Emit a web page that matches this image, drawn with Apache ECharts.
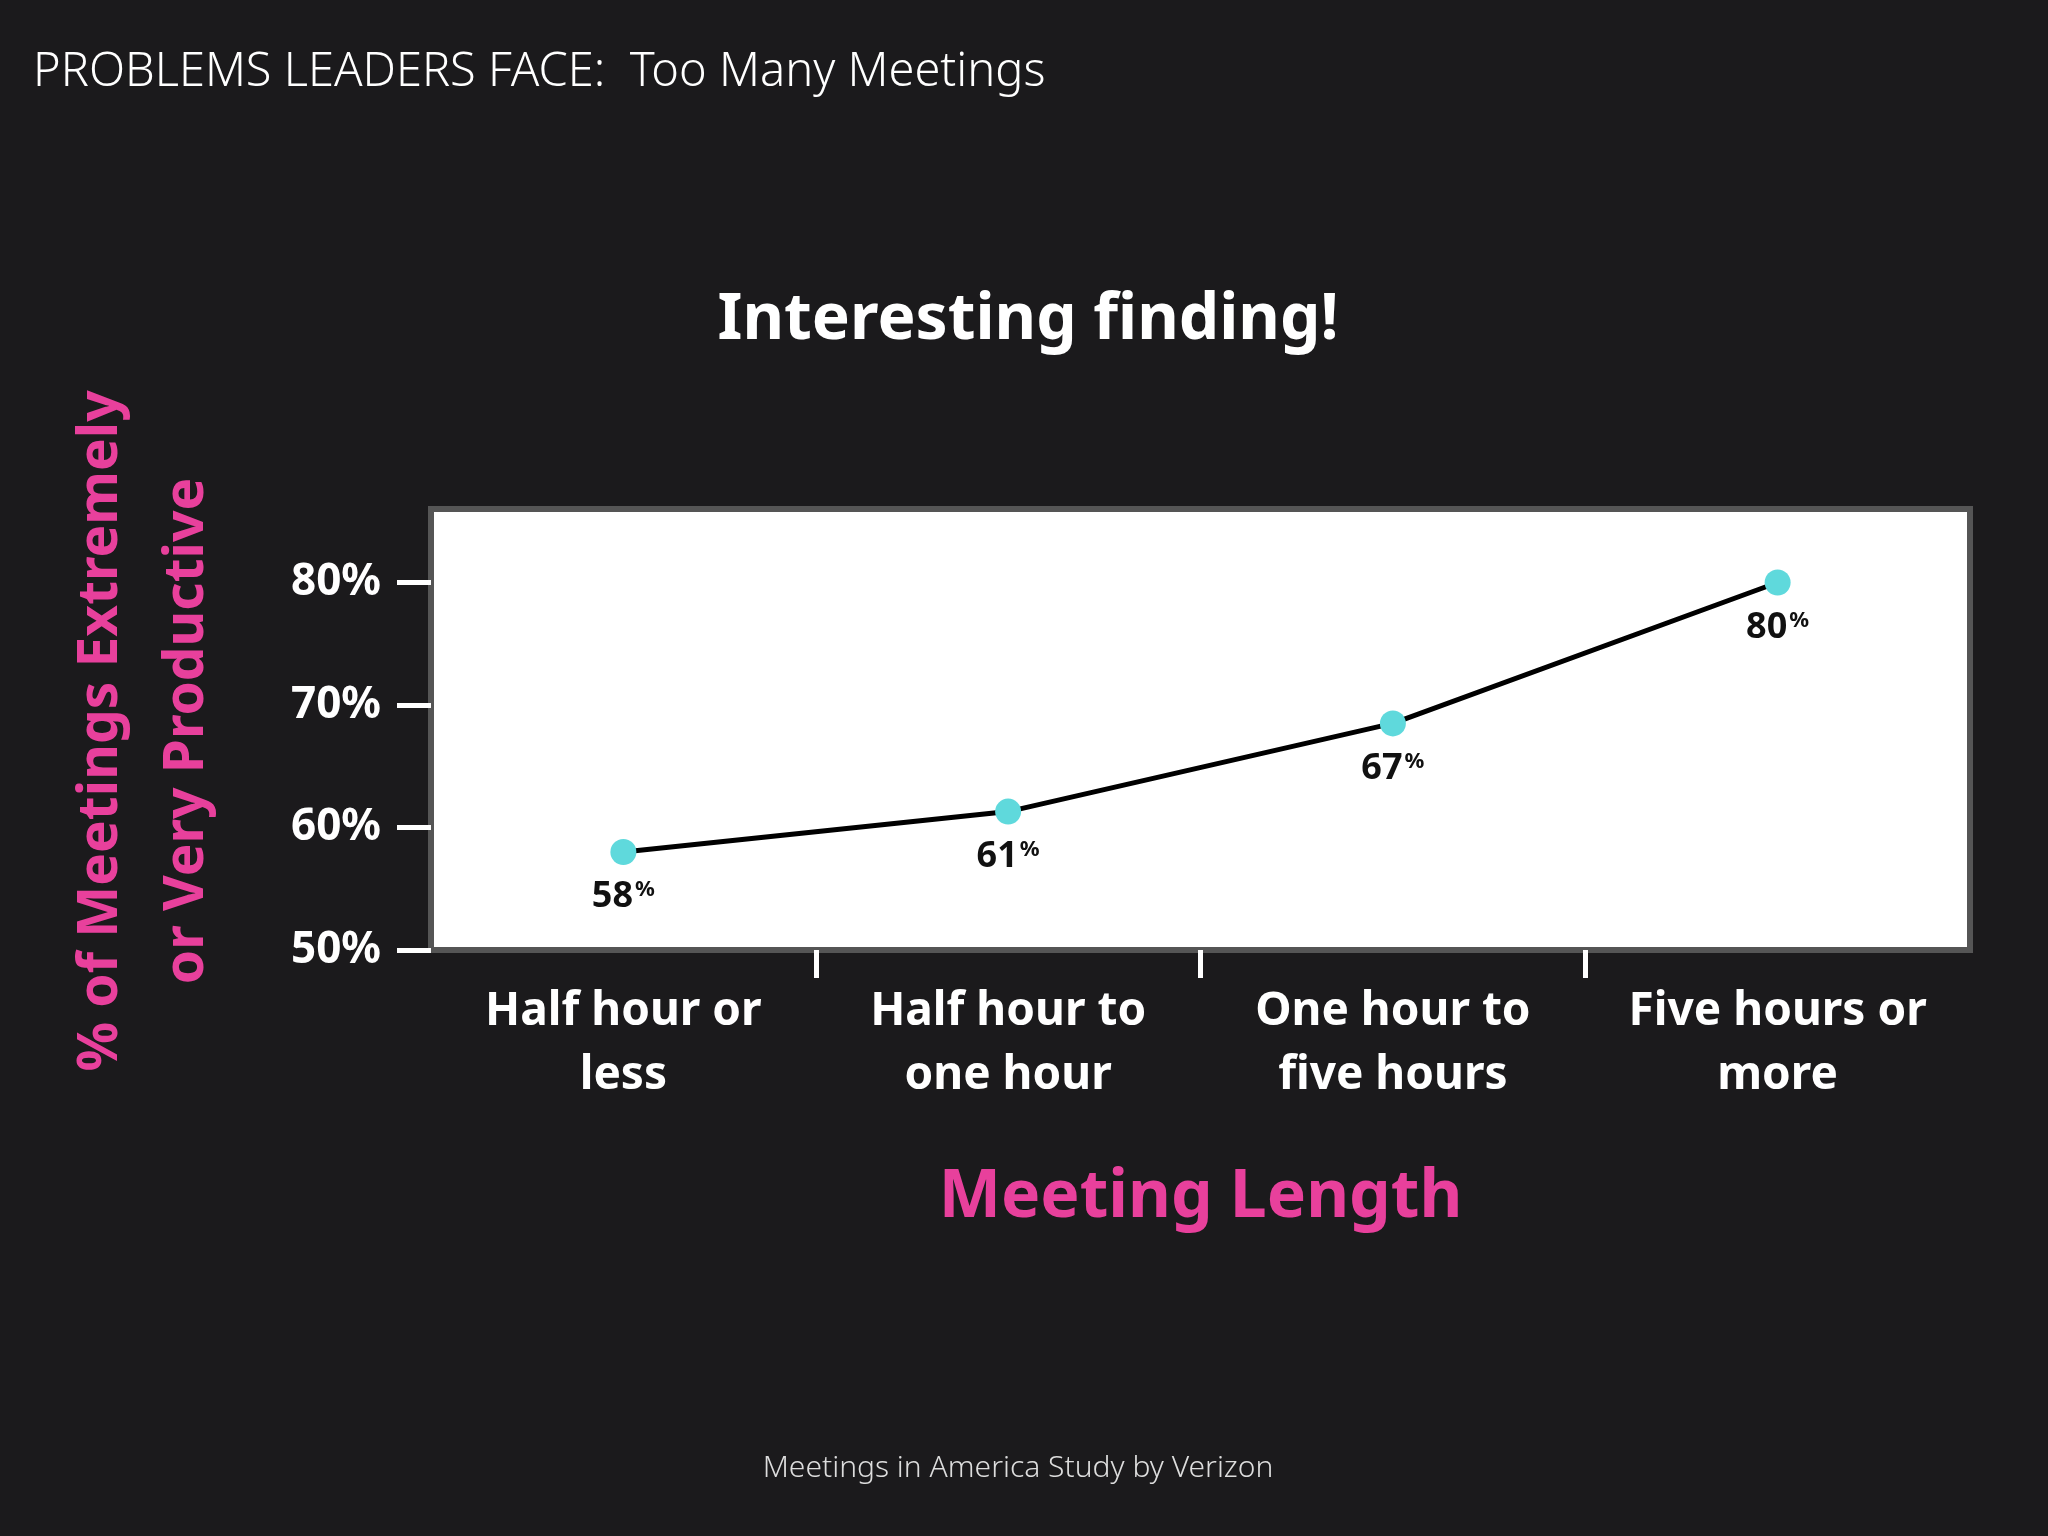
<!DOCTYPE html>
<html>
<head>
<meta charset="utf-8">
<script src="https://cdn.jsdelivr.net/npm/echarts@6/dist/echarts.min.js"></script>
<style>
  html, body { margin: 0; padding: 0; background: #1b1a1c; }
  #chart { width: 2048px; height: 1536px; }
</style>
</head>
<body>
<div id="chart"></div>
<script>
// meeting length buckets and plotted share of productive meetings
const categories = ['Half hour or\nless', 'Half hour to\none hour', 'One hour to\nfive hours', 'Five hours or\nmore'];
const plotted = [58, 61.3, 68.5, 80];
const pointLabels = ['58', '61', '67', '80'];
const yTicks = [50, 60, 70, 80];
const xDividers = [1, 2, 3];

const font = '"Noto Sans", "Open Sans", sans-serif';
const pink = '#e8409c';

const chart = echarts.init(document.getElementById('chart'));

chart.setOption({
  backgroundColor: '#1b1a1c',
  textStyle: { fontFamily: font },
  title: [
    {
      text: 'PROBLEMS LEADERS FACE:  Too Many Meetings',
      left: 28, top: 44,
      textStyle: { color: '#fff', fontSize: 47, fontWeight: 300, fontFamily: font },
    },
    {
      text: 'Interesting finding!',
      left: 1023, top: 284, textAlign: 'center',
      textStyle: { color: '#fff', fontSize: 64, fontWeight: 'bold', fontFamily: font },
    },
    {
      text: 'Meetings in America Study by Verizon',
      left: 1013, top: 1448, textAlign: 'center',
      textStyle: { color: '#ddd', fontSize: 30, fontWeight: 300, fontFamily: font },
    },
  ],
  graphic: [
    {
      type: 'text', x: 144, y: 731,
      rotation: Math.PI / 2,
      style: {
        text: '% of Meetings Extremely\nor Very Productive',
        fill: pink, font: `bold 55px ${font}`, align: 'center', verticalAlign: 'middle',
        lineHeight: 86,
      },
    },
  ],
  grid: {
    left: 431, right: 78, top: 509, bottom: 586,
    show: true, backgroundColor: '#fff', borderColor: '#555', borderWidth: 6,
  },
  xAxis: [
    {
      type: 'category',
      data: categories,
      name: 'Meeting Length',
      nameLocation: 'middle',
      nameGap: 215,
      nameTextStyle: { color: pink, fontSize: 66, fontWeight: 'bold', fontFamily: font },
      axisLine: { show: false },
      axisTick: { show: false },
      axisLabel: { interval: 0, color: '#fff', fontSize: 46, fontWeight: 'bold', lineHeight: 64, margin: 30, fontFamily: font },
    },
    {
      type: 'value',
      position: 'bottom',
      min: 0, max: 4,
      splitLine: { show: false },
      axisLine: { show: false },
      axisLabel: { show: false },
      axisTick: { show: true, customValues: xDividers, length: 28, lineStyle: { color: '#fff', width: 5 } },
    },
  ],
  yAxis: {
    type: 'value',
    min: 50, max: 86,
    splitLine: { show: false },
    axisLine: { show: false },
    axisTick: { show: true, customValues: yTicks, length: 34, lineStyle: { color: '#fff', width: 5 } },
    axisLabel: {
      customValues: yTicks,
      color: '#fff', fontSize: 44, fontWeight: 'bold', margin: 50, fontFamily: font,
      formatter: v => v + '%',
    },
  },
  series: [{
    type: 'line',
    xAxisIndex: 0,
    data: plotted,
    symbol: 'circle',
    symbolSize: 26,
    itemStyle: { color: '#5fd9dc' },
    lineStyle: { color: '#000', width: 5 },
    z: 3,
    label: {
      show: true,
      position: 'bottom',
      distance: 14,
      formatter: p => `{n|${pointLabels[p.dataIndex]}}{s|%}`,
      rich: {
        n: { fontSize: 36, fontWeight: 'bold', color: '#111', fontFamily: font },
        s: { fontSize: 22, fontWeight: 'bold', color: '#111', verticalAlign: 'top', padding: [0, 0, 14, 2], fontFamily: font },
      },
    },
  }],
});
</script>
</body>
</html>
